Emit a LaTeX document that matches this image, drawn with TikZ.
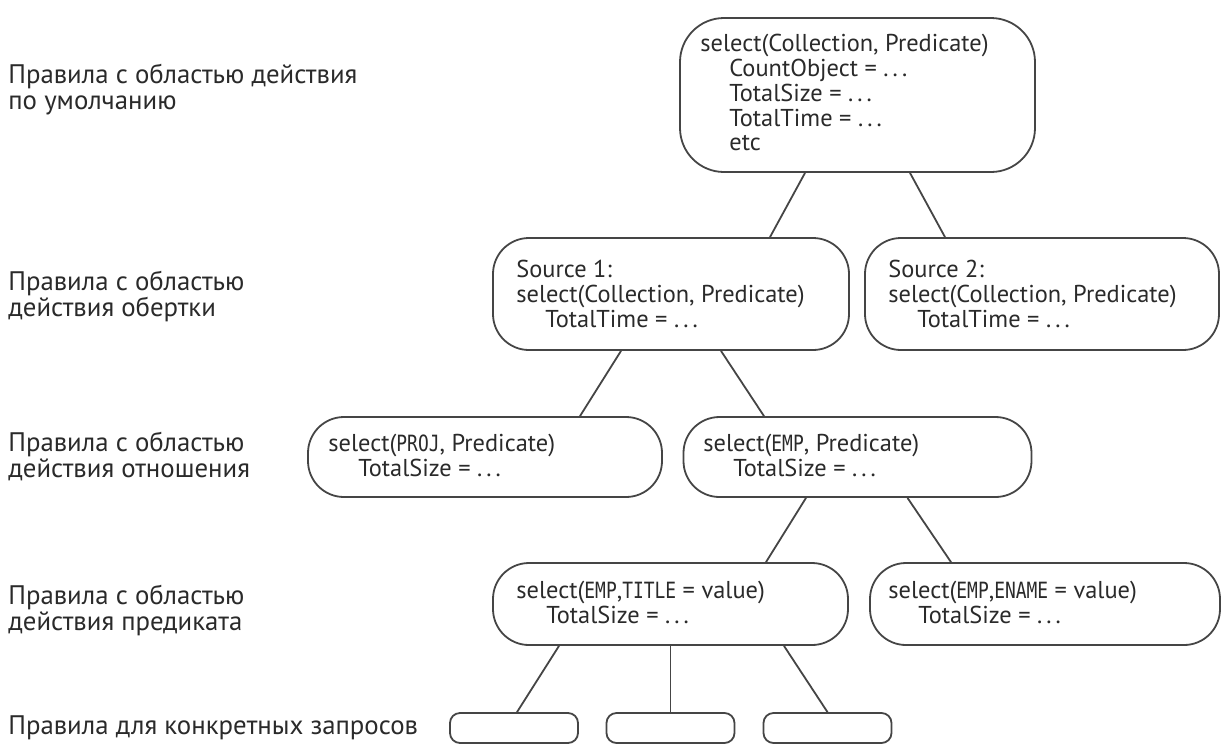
\documentclass[tikz,border=0pt]{standalone}
\usepackage{fontspec}
\setmainfont{PT Sans}
\newfontfamily\cmono[FakeStretch=0.8]{DejaVu Sans Mono}
\usetikzlibrary{calc}
\definecolor{ink}{HTML}{2A2A2A}
\definecolor{edge}{HTML}{454545}
\newcommand{\cm}[1]{{\cmono\fontsize{11.2}{10}\selectfont #1}}
\newcommand{\dd}{.\,.\,.}
\tikzset{
  box/.style={draw=edge, line width=0.9pt, rounded corners=18pt, inner sep=0pt, anchor=center},
  leaf/.style={draw=edge, line width=0.9pt, rounded corners=5pt, inner sep=0pt, minimum width=64pt, minimum height=15pt},
  txt/.style={anchor=north west, align=left, inner sep=0pt, text=ink, font=\fontsize{12.2}{12.4}\selectfont},
  lab/.style={anchor=north west, align=left, inner sep=0pt, text=ink, font=\fontsize{13.4}{13}\selectfont},
  conn/.style={draw=edge, line width=0.9pt}
}
\begin{document}
\begin{tikzpicture}[x=0.5pt, y=-0.5pt]
\useasboundingbox (0,0) rectangle (1222,746);
% boxes
\node[box, rounded corners=22pt, minimum width=177.5pt, minimum height=77pt] (top) at (857.5,95) {};
\node[box, minimum width=178pt, minimum height=56pt] (s1) at (671,294) {};
\node[box, minimum width=177pt, minimum height=56pt] (s2) at (1042,294) {};
\node[box, minimum width=177pt, minimum height=40pt] (proj) at (485,457) {};
\node[box, minimum width=174pt, minimum height=40pt] (emp) at (857.5,457) {};
\node[box, minimum width=177.5pt, minimum height=41pt] (title) at (670.5,604) {};
\node[box, minimum width=175pt, minimum height=41pt] (ename) at (1045,604) {};
\node[leaf] (q1) at (514,728) {};
\node[leaf] (q2) at (670.5,728) {};
\node[leaf] (q3) at (827.5,728) {};
% box texts
\node[txt] (ttop) at (700,34) {select(Collection, Predicate)\\
\hspace*{14.5pt}CountObject = \dd\\
\hspace*{14.5pt}TotalSize = \dd\\
\hspace*{14.5pt}TotalTime = \dd\\
\hspace*{14.5pt}etc};
\node[txt] (ts1) at (516,260) {Source 1:\\select(Collection, Predicate)\\\hspace*{14.5pt}TotalTime = \dd};
\node[txt] (ts2) at (888,260) {Source 2:\\select(Collection, Predicate)\\\hspace*{14.5pt}TotalTime = \dd};
\node[txt] (tproj) at (328,434) {select(\cm{PROJ}, Predicate)\\\hspace*{15pt}TotalSize = \dd};
\node[txt] (temp) at (703,434) {select(\cm{EMP}, Predicate)\\\hspace*{15pt}TotalSize = \dd};
\node[txt] (ttitle) at (516,581) {select(\cm{EMP},\cm{TITLE} = value)\\\hspace*{15pt}TotalSize = \dd};
\node[txt] (tename) at (888,581) {select(\cm{EMP},\cm{ENAME} = value)\\\hspace*{15pt}TotalSize = \dd};
% left labels
\node[lab] (l1) at (8,64) {Правила с областью действия\\по умолчанию};
\node[lab] (l2) at (8,271) {Правила с областью\\действия обертки};
\node[lab] (l3) at (8,432) {Правила с областью\\действия отношения};
\node[lab] (l4) at (8,585) {Правила с областью\\действия предиката};
\node[lab] (l5) at (8,715) {Правила для конкретных запросов};
% connectors
\draw[conn] ($(top.south)+(-52.5,0)$) -- ($(s1.north)+(99,0)$);
\draw[conn] ($(top.south)+(52.5,0)$) -- ($(s2.north)+(-97,0)$);
\draw[conn] ($(s1.south)+(-50,0)$) -- ($(proj.north)+(95,0)$);
\draw[conn] ($(s1.south)+(50,0)$) -- ($(emp.north)+(-93.5,0)$);
\draw[conn] ($(emp.south)+(-51.5,0)$) -- ($(title.north)+(95.5,0)$);
\draw[conn] ($(emp.south)+(50,0)$) -- ($(ename.north)+(-94,0)$);
\draw[conn] ($(title.south)+(-111.5,0)$) -- ($(q1.north)+(3,0)$);
\draw[conn] (title.south) -- (q2.north);
\draw[conn] ($(title.south)+(113.5,0)$) -- (q3.north);
\end{tikzpicture}
\end{document}
